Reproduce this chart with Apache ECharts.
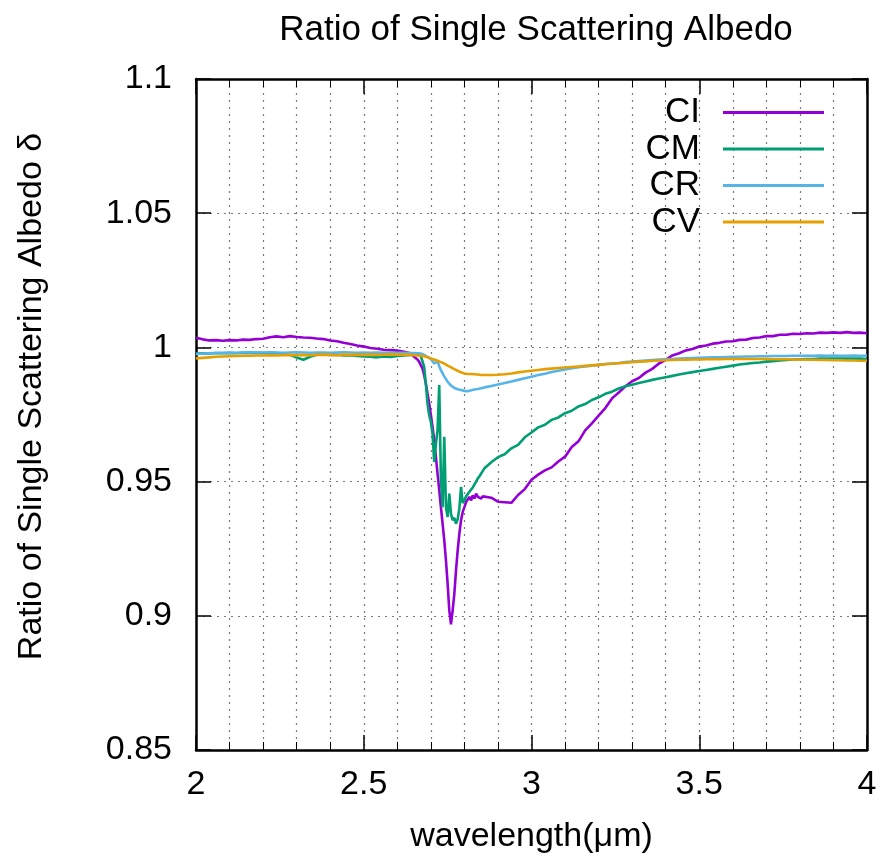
<!DOCTYPE html>
<html>
<head>
<meta charset="utf-8">
<script src="https://cdn.jsdelivr.net/npm/echarts@6/dist/echarts.min.js"></script>
<style>
html,body{margin:0;padding:0;background:#fff;}
#chart{width:884px;height:864px;}
</style>
</head>
<body>
<div id="chart"></div>
<script>
// wavelength (µm) sample positions
const wavelength = [
  2.00,2.02,2.04,2.06,2.08,2.10,2.12,2.14,2.16,2.18,2.20,2.22,2.24,2.26,2.28,2.30,2.32,2.34,2.36,2.38,2.40,2.42,2.44,2.46,2.48,2.50,2.52,2.54,2.56,2.58,2.60,2.62,2.64,
  2.645,2.65,2.655,2.66,2.665,2.67,2.675,2.68,2.685,2.69,2.695,2.70,2.705,2.71,2.715,2.72,2.725,2.73,2.735,2.74,2.745,2.75,2.755,2.76,2.765,2.77,2.775,2.78,2.785,2.79,2.795,2.80,2.805,2.81,2.815,2.82,2.825,2.83,2.835,2.84,2.845,2.85,2.855,2.86,
  2.88,2.90,2.92,2.94,2.96,2.98,3.00,3.02,3.04,3.06,3.08,3.10,3.12,3.14,3.16,3.18,3.20,3.22,3.24,3.26,3.28,3.30,3.32,3.34,3.36,3.38,3.40,3.42,3.44,3.46,3.48,3.50,3.52,3.54,3.56,3.58,3.60,3.62,3.64,3.66,3.68,3.70,3.72,3.74,3.76,3.78,3.80,3.82,3.84,3.86,3.88,3.90,3.92,3.94,3.96,3.98,4.00
];

const CI = [
  1.0036,1.0030,1.0026,1.0027,1.0025,1.0027,1.0026,1.0029,1.0028,1.0031,1.0032,1.0038,1.0041,1.0038,1.0042,1.0039,1.0037,1.0036,1.0033,1.0031,1.0026,1.0023,1.0017,1.0013,1.0007,1.0003,0.9998,0.9995,0.9991,0.9990,0.9988,0.9984,0.9978,
  0.9975,0.9965,0.9968,0.9955,0.9947,0.9934,0.9922,0.9897,0.9866,0.9828,0.9791,0.9748,0.9704,0.9654,0.9592,0.9530,0.9468,0.9405,0.9343,0.9281,0.9207,0.9120,0.9020,0.8968,0.9020,0.9082,0.9169,0.9244,0.9306,0.9356,0.9387,0.9405,0.9424,0.9418,0.9443,0.9430,0.9449,0.9437,0.9455,0.9443,0.9449,0.9437,0.9445,0.9440,
  0.9440,0.9425,0.9423,0.9421,0.9450,0.9472,0.9507,0.9526,0.9542,0.9553,0.9575,0.9593,0.9629,0.9650,0.9691,0.9717,0.9746,0.9774,0.9810,0.9832,0.9855,0.9874,0.9886,0.9906,0.9920,0.9940,0.9954,0.9970,0.9978,0.9989,0.9994,1.0003,1.0007,1.0014,1.0017,1.0022,1.0023,1.0028,1.0029,1.0035,1.0037,1.0042,1.0042,1.0047,1.0047,1.0051,1.0050,1.0053,1.0052,1.0055,1.0054,1.0056,1.0054,1.0057,1.0054,1.0055,1.0053
];

const CM = [
  0.9977,0.9978,0.9977,0.9979,0.9978,0.9979,0.9978,0.9980,0.9979,0.9980,0.9979,0.9978,0.9979,0.9976,0.9972,0.9962,0.9954,0.9965,0.9973,0.9974,0.9972,0.9973,0.9970,0.9971,0.9968,0.9966,0.9965,0.9963,0.9966,0.9964,0.9968,0.9970,0.9972,
  0.9972,0.9975,0.9970,0.9974,0.9970,0.9968,0.9962,0.9928,0.9866,0.9791,0.9748,0.9723,0.9679,0.9573,0.9640,0.9692,0.9860,0.9510,0.9405,0.9667,0.9405,0.9368,0.9455,0.9380,0.9356,0.9365,0.9343,0.9360,0.9400,0.9480,0.9420,0.9430,0.9445,0.9450,0.9462,0.9470,0.9478,0.9490,0.9500,0.9512,0.9520,0.9530,0.9540,0.9550,
  0.9572,0.9591,0.9602,0.9624,0.9637,0.9665,0.9683,0.9702,0.9712,0.9730,0.9739,0.9755,0.9764,0.9780,0.9789,0.9804,0.9814,0.9827,0.9835,0.9847,0.9855,0.9861,0.9867,0.9873,0.9879,0.9884,0.9889,0.9894,0.9899,0.9904,0.9908,0.9912,0.9916,0.9920,0.9924,0.9928,0.9932,0.9936,0.9939,0.9942,0.9944,0.9947,0.9949,0.9951,0.9953,0.9955,0.9956,0.9957,0.9957,0.9958,0.9958,0.9958,0.9958,0.9958,0.9958,0.9958,0.9957
];

const CR = [
  0.9975,0.9977,0.9978,0.9979,0.9980,0.9981,0.9980,0.9981,0.9982,0.9981,0.9981,0.9982,0.9981,0.9980,0.9981,0.9982,0.9981,0.9980,0.9981,0.9981,0.9980,0.9981,0.9982,0.9981,0.9980,0.9981,0.9980,0.9981,0.9980,0.9981,0.9980,0.9980,0.9979,
  0.9980,0.9979,0.9980,0.9978,0.9979,0.9977,0.9976,0.9972,0.9968,0.9965,0.9962,0.9957,0.9950,0.9940,0.9945,0.9948,0.9930,0.9915,0.9903,0.9892,0.9882,0.9872,0.9865,0.9858,0.9853,0.9849,0.9846,0.9844,0.9842,0.9841,0.9839,0.9838,0.9840,0.9837,0.9839,0.9840,0.9841,0.9843,0.9842,0.9845,0.9846,0.9848,0.9849,0.9851,
  0.9856,0.9862,0.9867,0.9873,0.9879,0.9885,0.9891,0.9897,0.9902,0.9908,0.9913,0.9918,0.9922,0.9926,0.9929,0.9932,0.9935,0.9938,0.9940,0.9942,0.9945,0.9947,0.9949,0.9951,0.9953,0.9955,0.9956,0.9957,0.9958,0.9959,0.9960,0.9961,0.9962,0.9963,0.9963,0.9964,0.9965,0.9965,0.9966,0.9966,0.9967,0.9967,0.9968,0.9968,0.9968,0.9969,0.9969,0.9969,0.9969,0.9970,0.9969,0.9970,0.9969,0.9969,0.9970,0.9969,0.9969
];

const CV = [
  0.9959,0.9961,0.9963,0.9965,0.9966,0.9967,0.9968,0.9969,0.9969,0.9970,0.9970,0.9971,0.9970,0.9971,0.9972,0.9971,0.9972,0.9971,0.9972,0.9973,0.9972,0.9971,0.9973,0.9972,0.9973,0.9972,0.9973,0.9972,0.9973,0.9974,0.9973,0.9973,0.9972,
  0.9972,0.9971,0.9972,0.9970,0.9970,0.9969,0.9968,0.9967,0.9965,0.9963,0.9961,0.9959,0.9957,0.9955,0.9952,0.9950,0.9947,0.9945,0.9942,0.9940,0.9936,0.9932,0.9929,0.9926,0.9922,0.9919,0.9916,0.9913,0.9910,0.9907,0.9905,0.9903,0.9902,0.9901,0.9900,0.9901,0.9899,0.9900,0.9898,0.9899,0.9898,0.9897,0.9898,0.9897,
  0.9897,0.9898,0.9900,0.9903,0.9907,0.9910,0.9913,0.9916,0.9919,0.9921,0.9923,0.9925,0.9927,0.9929,0.9931,0.9933,0.9935,0.9937,0.9939,0.9941,0.9943,0.9945,0.9947,0.9948,0.9950,0.9951,0.9952,0.9953,0.9954,0.9954,0.9955,0.9955,0.9956,0.9956,0.9956,0.9957,0.9957,0.9957,0.9957,0.9957,0.9957,0.9957,0.9956,0.9956,0.9956,0.9955,0.9955,0.9954,0.9954,0.9953,0.9953,0.9952,0.9952,0.9951,0.9951,0.9950,0.9950
];

const seriesNames = ['CI', 'CM', 'CR', 'CV'];
const seriesValues = [CI, CM, CR, CV];
const seriesColors = ['#9400d3', '#009e73', '#56b4e9', '#e69f00'];

const FONT = 'Liberation Sans, Arial, Helvetica, sans-serif';

function pairs(vals) {
  return vals.map((v, i) => [wavelength[i], v]);
}

const chart = echarts.init(document.getElementById('chart'), null, {renderer: 'canvas'});

const gridLine = {show: true, lineStyle: {color: '#7a7a7a', width: 1.2, type: [2, 5]}};

const option = {
  backgroundColor: '#ffffff',
  animation: false,
  title: {
    text: 'Ratio of Single Scattering Albedo',
    left: 531,
    top: 8,
    textAlign: 'center',
    textStyle: {fontSize: 35, fontWeight: 'normal', color: '#000', fontFamily: FONT}
  },
  legend: {
    orient: 'vertical',
    right: 55,
    top: 90,
    align: 'right',
    icon: 'rect',
    itemWidth: 101,
    itemHeight: 3,
    itemGap: 1.5,
    textStyle: {fontSize: 35, color: '#000', fontFamily: FONT, lineHeight: 34, padding: [0, 18, 0, 0]},
    data: seriesNames
  },
  grid: {left: 196, top: 79, width: 671, height: 671, containLabel: false},
  xAxis: [
    {
      type: 'value', min: 2, max: 4, interval: 0.5, position: 'bottom',
      axisLine: {show: true, onZero: false, lineStyle: {color: '#000', width: 2.5}},
      axisTick: {show: true, inside: true, length: 15, lineStyle: {color: '#000', width: 1.5}},
      minorTick: {show: true, splitNumber: 5, length: 8, lineStyle: {color: '#000', width: 1}},
      splitLine: gridLine,
      minorSplitLine: gridLine,
      axisLabel: {fontSize: 34, color: '#000', margin: 18, fontFamily: FONT},
      name: 'wavelength(\u03bcm)', nameLocation: 'middle', nameGap: 70,
      nameTextStyle: {fontSize: 34, color: '#000', fontFamily: FONT}
    },
    {
      type: 'value', min: 2, max: 4, interval: 0.5, position: 'top',
      axisLine: {show: true, onZero: false, lineStyle: {color: '#000', width: 2.5}},
      axisTick: {show: true, inside: true, length: 15, lineStyle: {color: '#000', width: 1.5}},
      minorTick: {show: true, splitNumber: 5, length: 8, lineStyle: {color: '#000', width: 1}},
      splitLine: {show: false},
      axisLabel: {show: false}
    }
  ],
  yAxis: [
    {
      type: 'value', min: 0.85, max: 1.1, interval: 0.05, position: 'left',
      axisLine: {show: true, onZero: false, lineStyle: {color: '#000', width: 2.5}},
      axisTick: {show: true, inside: true, length: 15, lineStyle: {color: '#000', width: 1.5}},
      splitLine: gridLine,
      axisLabel: {fontSize: 34, color: '#000', margin: 24, fontFamily: FONT},
      name: 'Ratio of Single Scattering Albedo \u03b4', nameLocation: 'middle', nameGap: 147,
      nameTextStyle: {fontSize: 34, color: '#000', fontFamily: FONT, padding: [0, 0, 0, 36]}
    },
    {
      type: 'value', min: 0.85, max: 1.1, interval: 0.05, position: 'right',
      axisLine: {show: true, onZero: false, lineStyle: {color: '#000', width: 2.5}},
      axisTick: {show: true, inside: true, length: 15, lineStyle: {color: '#000', width: 1.5}},
      splitLine: {show: false},
      axisLabel: {show: false}
    }
  ],
  series: seriesNames.map((name, k) => ({
    name: name,
    type: 'line',
    xAxisIndex: 0,
    yAxisIndex: 0,
    data: pairs(seriesValues[k]),
    showSymbol: false,
    symbol: 'none',
    lineStyle: {color: seriesColors[k], width: 2.6},
    itemStyle: {color: seriesColors[k]},
    z: 2 + k
  }))
};

chart.setOption(option);
</script>
</body>
</html>
